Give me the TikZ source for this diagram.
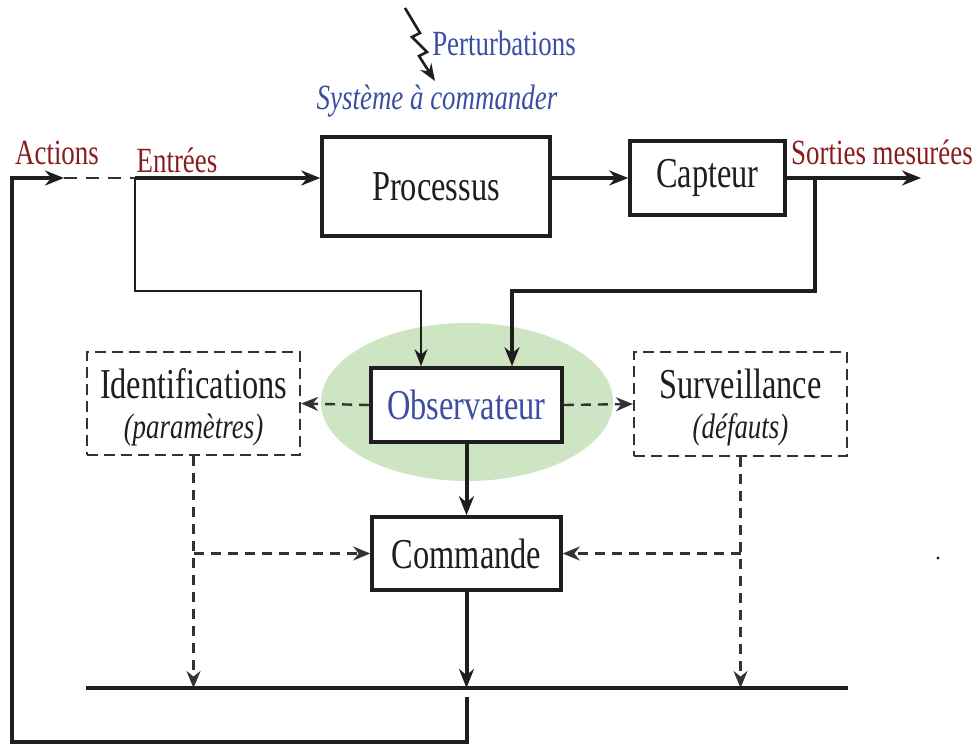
\documentclass[tikz,border=0pt]{standalone}
\usepackage{fontspec}
\setmainfont{Liberation Serif}[FakeStretch=0.76]
\usetikzlibrary{arrows.meta,shapes.geometric}
\definecolor{labred}{HTML}{8B1C1C}
\definecolor{labblue}{HTML}{3B4EA3}
\definecolor{obsgreen}{HTML}{CDE5C3}
\definecolor{dashgray}{HTML}{333333}
\definecolor{inkblack}{HTML}{1E1E1E}

\tikzset{
  bigtxt/.style={font=\fontsize{21.3}{24}\selectfont, text=inkblack},
  smalltxt/.style={font=\fontsize{17.7}{20}\selectfont},
  block/.style={draw=inkblack, line width=1.8pt, fill=white, inner sep=0pt, bigtxt},
  dashbox/.style={draw=dashgray, line width=1.1pt, dash pattern=on 5.5pt off 3pt, inner sep=0pt},
  heavy/.style={draw=inkblack, line width=2pt, -{Stealth[length=9.5pt,width=7.5pt]}},
  light/.style={draw=inkblack, line width=1.1pt, -{Stealth[length=8.5pt,width=6.5pt]}},
  dsh/.style={draw=dashgray, line width=1.2pt, dash pattern=on 5pt off 3.5pt, -{Stealth[length=8.5pt,width=7pt]}},
}

\begin{document}
\begin{tikzpicture}[x=0.5pt,y=-0.5pt]
\useasboundingbox (0,0) rectangle (977,747);

% observer background
\node[ellipse, fill=obsgreen, minimum width=146pt, minimum height=79pt, inner sep=0pt] (obsbg) at (467,402) {};

% blocks
\node[block, minimum width=114pt, minimum height=49.5pt] (proc) at (436,186.5) {Processus};
\node[block, minimum width=77.5pt, minimum height=37pt] (capt) at (707.5,178) {Capteur};
\node[block, minimum width=95.5pt, minimum height=37pt, text=labblue] (obs) at (466.5,405) {Observateur};
\node[block, minimum width=94.5pt, minimum height=36.5pt] (cmd) at (466.5,553.5) {Commande};
\node[dashbox, minimum width=106.5pt, minimum height=51.5pt] (ident) at (193.5,403.5) {};
\node[dashbox, minimum width=106.5pt, minimum height=52pt] (surv) at (740.5,404) {};

% texts of the dashed boxes
\node[bigtxt] (identt) at (193.5,384) {Identifications};
\node[smalltxt, text=inkblack, font=\fontsize{17.7}{20}\selectfont\itshape] (identp) at (193.5,430) {(paramètres)};
\node[bigtxt] (survt) at (740.5,384) {Surveillance};
\node[smalltxt, text=inkblack, font=\fontsize{17.7}{20}\selectfont\itshape] (survd) at (740.5,430) {(défauts)};

% labels
\node[smalltxt, text=labblue] (pert) at (504,43) {Perturbations};
\node[smalltxt, text=labblue, font=\fontsize{17.7}{20}\selectfont\itshape] (sys) at (437,101) {Système à commander};
\node[smalltxt, text=labred] (act) at (57,153) {Actions};
\node[smalltxt, text=labred] (entl) at (177,160) {Entrées};
\node[smalltxt, text=labred] (sortl) at (882,152) {Sorties mesurées};

% junction points
\coordinate (ent) at (135,178);
\coordinate (actend) at (64,178);
\coordinate (outend) at (921,178);
\coordinate (sortap) at (815,178);
\coordinate (obsinL) at ([xshift=-22.75pt]obs.north);
\coordinate (obsinR) at ([xshift=22.75pt]obs.north);
\coordinate (busL) at (86,688);
\coordinate (busR) at (848,688);
\coordinate (loopst) at (466.5,697);
\coordinate (pz0) at (405,8);
\coordinate (pzend) at (435,81);

% disturbance
\draw[light, line width=1.3pt] (pz0) -- (420,33) -- (412,37) -- (427,52) -- (419,56) -- (pzend);

% forward chain
\draw[heavy] (ent) -- (ent -| proc.west);
\draw[heavy] (proc.east |- capt.west) -- (capt.west);
\draw[heavy] (capt.east) -- (outend);

% measurements to the observer
\draw[light] (ent) -- (135,291) -| (obsinL);
\draw[heavy] (sortap) -- (815,291) -| (obsinR);

% observer outputs
\draw[dsh] (obs.west) -- (ident.east);
\draw[dsh] (obs.east) -- (surv.west);
\draw[heavy] (obs.south) -- (cmd.north);

% identification and monitoring links
\draw[dsh] (ident.south) -- (ident.south |- busL);
\draw[dsh] (surv.south) -- (surv.south |- busL);
\draw[dsh] (ident.south |- cmd.west) -- (cmd.west);
\draw[dsh] (surv.south |- cmd.east) -- (cmd.east);

% command to the actuator bus
\draw[heavy] (cmd.south) -- (cmd.south |- busL);
\draw[draw=inkblack, line width=2.2pt] (busL) -- (busR);

% feedback loop to the actions
\draw[heavy, line join=miter] (loopst) -- (466.5,742) -| (12,178) -- (actend);
\draw[draw=dashgray, line width=1.2pt, dash pattern=on 6.5pt off 4.5pt] (actend) -- (ent);

% stray dot
\node[circle, fill=inkblack, inner sep=0pt, minimum size=1.6pt] (dot) at (938,558) {};

\end{tikzpicture}
\end{document}
